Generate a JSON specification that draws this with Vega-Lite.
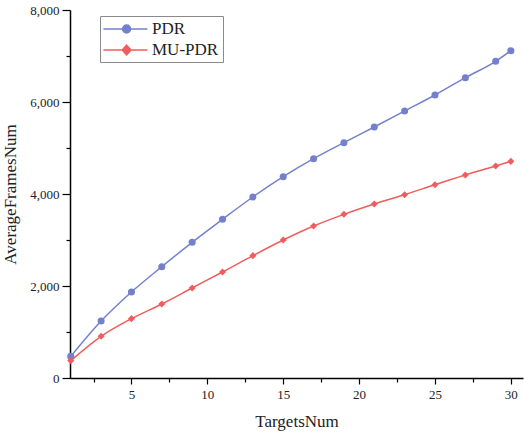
{
  "$schema": "https://vega.github.io/schema/vega-lite/v6.json",
  "width": 453,
  "height": 368,
  "autosize": "none",
  "padding": {"left": 70, "top": 10, "right": 1, "bottom": 62},
  "background": "white",
  "config": {
    "view": {"stroke": null},
    "font": "Times New Roman, Liberation Serif, serif",
    "axis": {"grid": false, "domainColor": "black", "tickColor": "black", "labelColor": "#222", "titleColor": "#222", "labelFont": "Times New Roman, Liberation Serif, serif", "titleFont": "Times New Roman, Liberation Serif, serif", "titleFontWeight": "normal", "domainWidth": 1.5, "tickWidth": 1.2}
  },
  "data": {
    "values": [
      {"x": 1, "y": 470, "s": "PDR"},
      {"x": 3, "y": 1239, "s": "PDR"},
      {"x": 5, "y": 1870, "s": "PDR"},
      {"x": 7, "y": 2420, "s": "PDR"},
      {"x": 9, "y": 2950, "s": "PDR"},
      {"x": 11, "y": 3450, "s": "PDR"},
      {"x": 13, "y": 3935, "s": "PDR"},
      {"x": 15, "y": 4376, "s": "PDR"},
      {"x": 17, "y": 4768, "s": "PDR"},
      {"x": 19, "y": 5116, "s": "PDR"},
      {"x": 21, "y": 5457, "s": "PDR"},
      {"x": 23, "y": 5804, "s": "PDR"},
      {"x": 25, "y": 6152, "s": "PDR"},
      {"x": 27, "y": 6529, "s": "PDR"},
      {"x": 29, "y": 6884, "s": "PDR"},
      {"x": 30, "y": 7116, "s": "PDR"},
      {"x": 1, "y": 377, "s": "MU-PDR"},
      {"x": 3, "y": 906, "s": "MU-PDR"},
      {"x": 5, "y": 1290, "s": "MU-PDR"},
      {"x": 7, "y": 1609, "s": "MU-PDR"},
      {"x": 9, "y": 1957, "s": "MU-PDR"},
      {"x": 11, "y": 2304, "s": "MU-PDR"},
      {"x": 13, "y": 2660, "s": "MU-PDR"},
      {"x": 15, "y": 3000, "s": "MU-PDR"},
      {"x": 17, "y": 3304, "s": "MU-PDR"},
      {"x": 19, "y": 3558, "s": "MU-PDR"},
      {"x": 21, "y": 3783, "s": "MU-PDR"},
      {"x": 23, "y": 3985, "s": "MU-PDR"},
      {"x": 25, "y": 4203, "s": "MU-PDR"},
      {"x": 27, "y": 4413, "s": "MU-PDR"},
      {"x": 29, "y": 4609, "s": "MU-PDR"},
      {"x": 30, "y": 4710, "s": "MU-PDR"}
    ]
  },
  "encoding": {
    "x": {
      "field": "x", "type": "quantitative",
      "scale": {"domain": [0.95, 30.8], "nice": false, "zero": false},
      "axis": {
        "title": "TargetsNum", "titleFontSize": 17, "titlePadding": 12,
        "values": [2.5, 5, 7.5, 10, 12.5, 15, 17.5, 20, 22.5, 25, 27.5, 30],
        "labelExpr": "datum.value % 5 === 0 ? datum.label : ''",
        "tickSize": {"expr": "datum.value % 5 === 0 ? 6 : 4"},
        "labelFontSize": 13, "labelPadding": 4, "labelFlush": false
      }
    },
    "y": {
      "field": "y", "type": "quantitative",
      "scale": {"domain": [0, 8000], "nice": false},
      "axis": {
        "title": "AverageFramesNum", "titleFontSize": 17, "titlePadding": 10,
        "values": [0, 1000, 2000, 3000, 4000, 5000, 6000, 7000, 8000],
        "labelExpr": "datum.value % 2000 === 0 ? format(datum.value, ',') : ''",
        "tickSize": {"expr": "datum.value % 2000 === 0 ? 8 : 4"},
        "labelFontSize": 13, "labelPadding": 3, "labelFlush": false
      }
    },
    "color": {
      "field": "s", "type": "nominal",
      "scale": {"domain": ["PDR", "MU-PDR"], "range": ["#7580cc", "#f25c5c"]},
      "legend": {
        "title": null, "orient": "none", "legendX": 30, "legendY": 6,
        "strokeColor": "#8a8a8a", "fillColor": "white", "padding": 4,
        "labelFontSize": 17, "labelFont": "Times New Roman, Liberation Serif, serif", "labelColor": "#222",
        "symbolSize": 256, "symbolStrokeWidth": 1.5, "labelOffset": 30, "rowPadding": 4,
        "symbolOpacity": 1,
        "encode": {
          "symbols": {
            "update": {
              "shape": {"signal": "datum.value === 'PDR' ? 'M-1.2,0H4.3M2.2,0A0.5,0.5 0 1,1 1.2,0A0.5,0.5 0 1,1 2.2,0Z' : 'M-1.2,0H4.3M1.7,-0.6L2.25,0L1.7,0.6L1.15,0Z'"},
              "fill": {"signal": "datum.value === 'PDR' ? '#7580cc' : '#f25c5c'"},
              "stroke": {"signal": "datum.value === 'PDR' ? '#7580cc' : '#f25c5c'"},
              "strokeWidth": {"value": 1.5},
              "size": {"value": 256},
              "opacity": {"value": 1}
            }
          }
        }
      }
    }
  },
  "layer": [
    {
      "mark": {"type": "line", "interpolate": "monotone", "strokeWidth": 1.5}
    },
    {
      "transform": [{"filter": "datum.s === 'PDR'"}],
      "mark": {"type": "point", "filled": true, "opacity": 1, "size": 50, "shape": "circle"}
    },
    {
      "transform": [{"filter": "datum.s === 'MU-PDR'"}],
      "mark": {"type": "point", "filled": true, "opacity": 1, "size": 50, "shape": "diamond"}
    }
  ]
}
